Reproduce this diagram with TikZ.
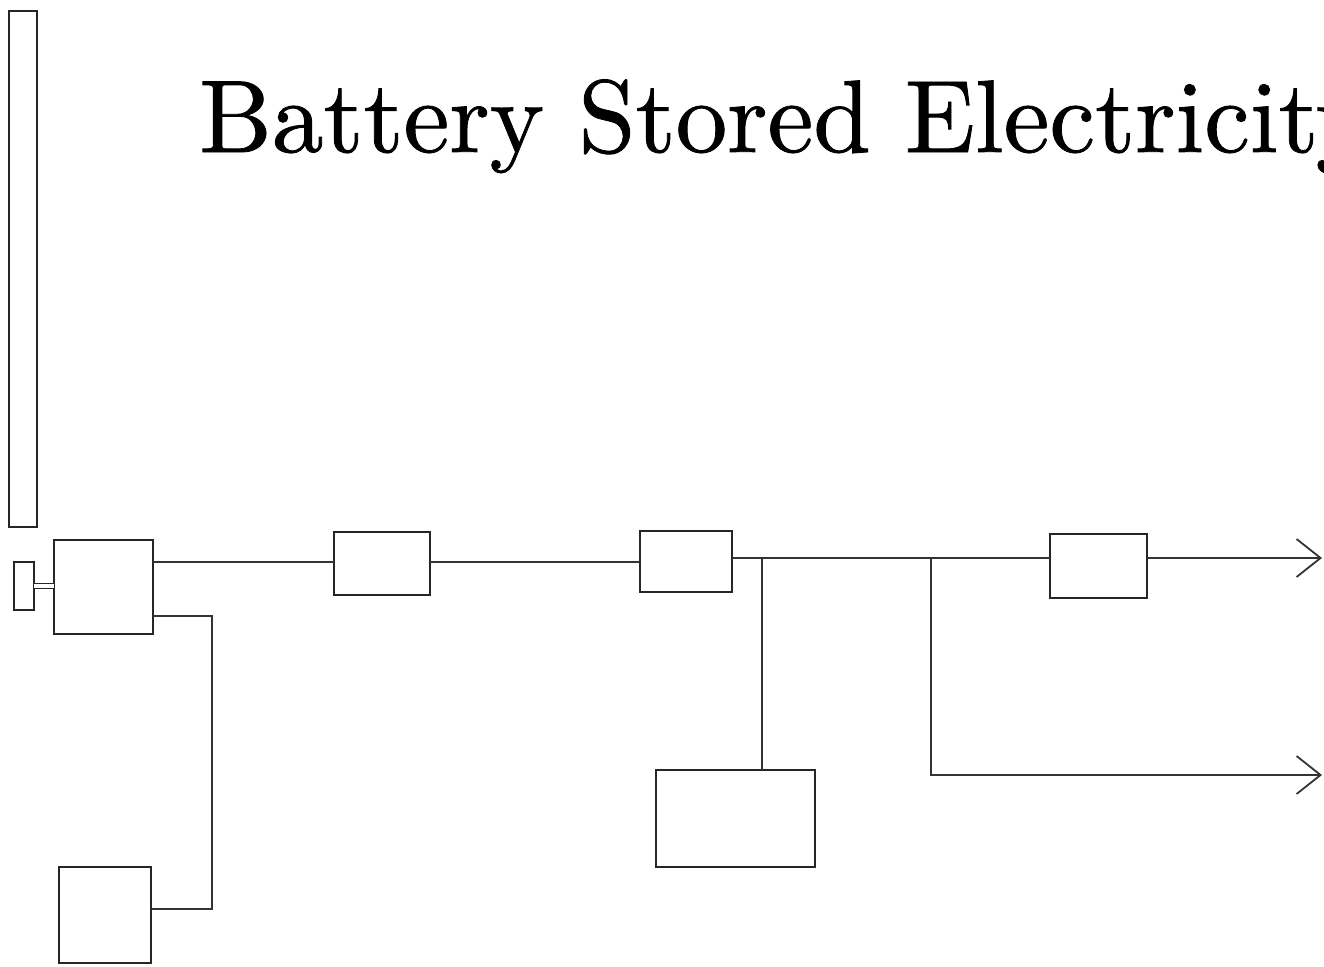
\documentclass[tikz,border=0pt]{standalone}
\usepackage{fontspec}
\newfontfamily\titlefont{Latin Modern Roman}[FakeBold=0.8]
\usetikzlibrary{arrows.meta}
\begin{document}
\begin{tikzpicture}[x=1pt,y=-1pt,
  box/.style={draw=black!85,line width=2pt,minimum width=#1,inner sep=0pt,outer sep=0pt},
  wire/.style={draw=black!80,line width=2pt},
  tip/.style={-{Straight Barb[length=24pt,width=38pt,line width=1.8pt]}}]
\useasboundingbox (0,0) rectangle (1324,966);
\node[anchor=base west,inner sep=0pt,scale=10.3,font=\titlefont\fontsize{10}{12}\selectfont] (title) at (197,152) {Battery Stored Electricity};
% boxes
\node[box=28pt,minimum height=516pt] (mast) at (23,269) {};
\node[box=20pt,minimum height=48pt] (sw) at (24,586) {};
\node[box=99pt,minimum height=94pt] (A) at (103.5,587) {};
\node[box=96pt,minimum height=63pt] (B) at (382,563) {};
\node[box=92pt,minimum height=61pt] (C) at (686,561.5) {};
\node[box=159pt,minimum height=97pt] (D) at (735.5,818.5) {};
\node[box=97pt,minimum height=64pt] (E) at (1098.5,566) {};
\node[box=92pt,minimum height=96pt] (F) at (105,915) {};
\coordinate (out1) at (1322,558);
\coordinate (out2) at (1322,775);
\coordinate (j1) at (762,558);
\coordinate (j2) at (931,558);
% connectors
\draw[black!85,double,double distance=4pt,line width=1.4pt] (sw.east) -- (sw.east -| A.west);
\draw[wire] (A.east |- 0,562) -- (B.west |- 0,562);
\draw[wire] (B.east |- 0,562) -- (C.west |- 0,562);
\draw[wire] (C.east |- 0,558) -- (E.west |- 0,558);
\draw[wire,tip] (E.east |- 0,558) -- (out1);
\draw[wire] (j1) -- (j1 |- D.north);
\draw[wire,tip] (j2) |- (out2);
\draw[wire] (A.east |- 0,616) -| (212,909) -- (F.east |- 0,909);
\end{tikzpicture}
\end{document}
